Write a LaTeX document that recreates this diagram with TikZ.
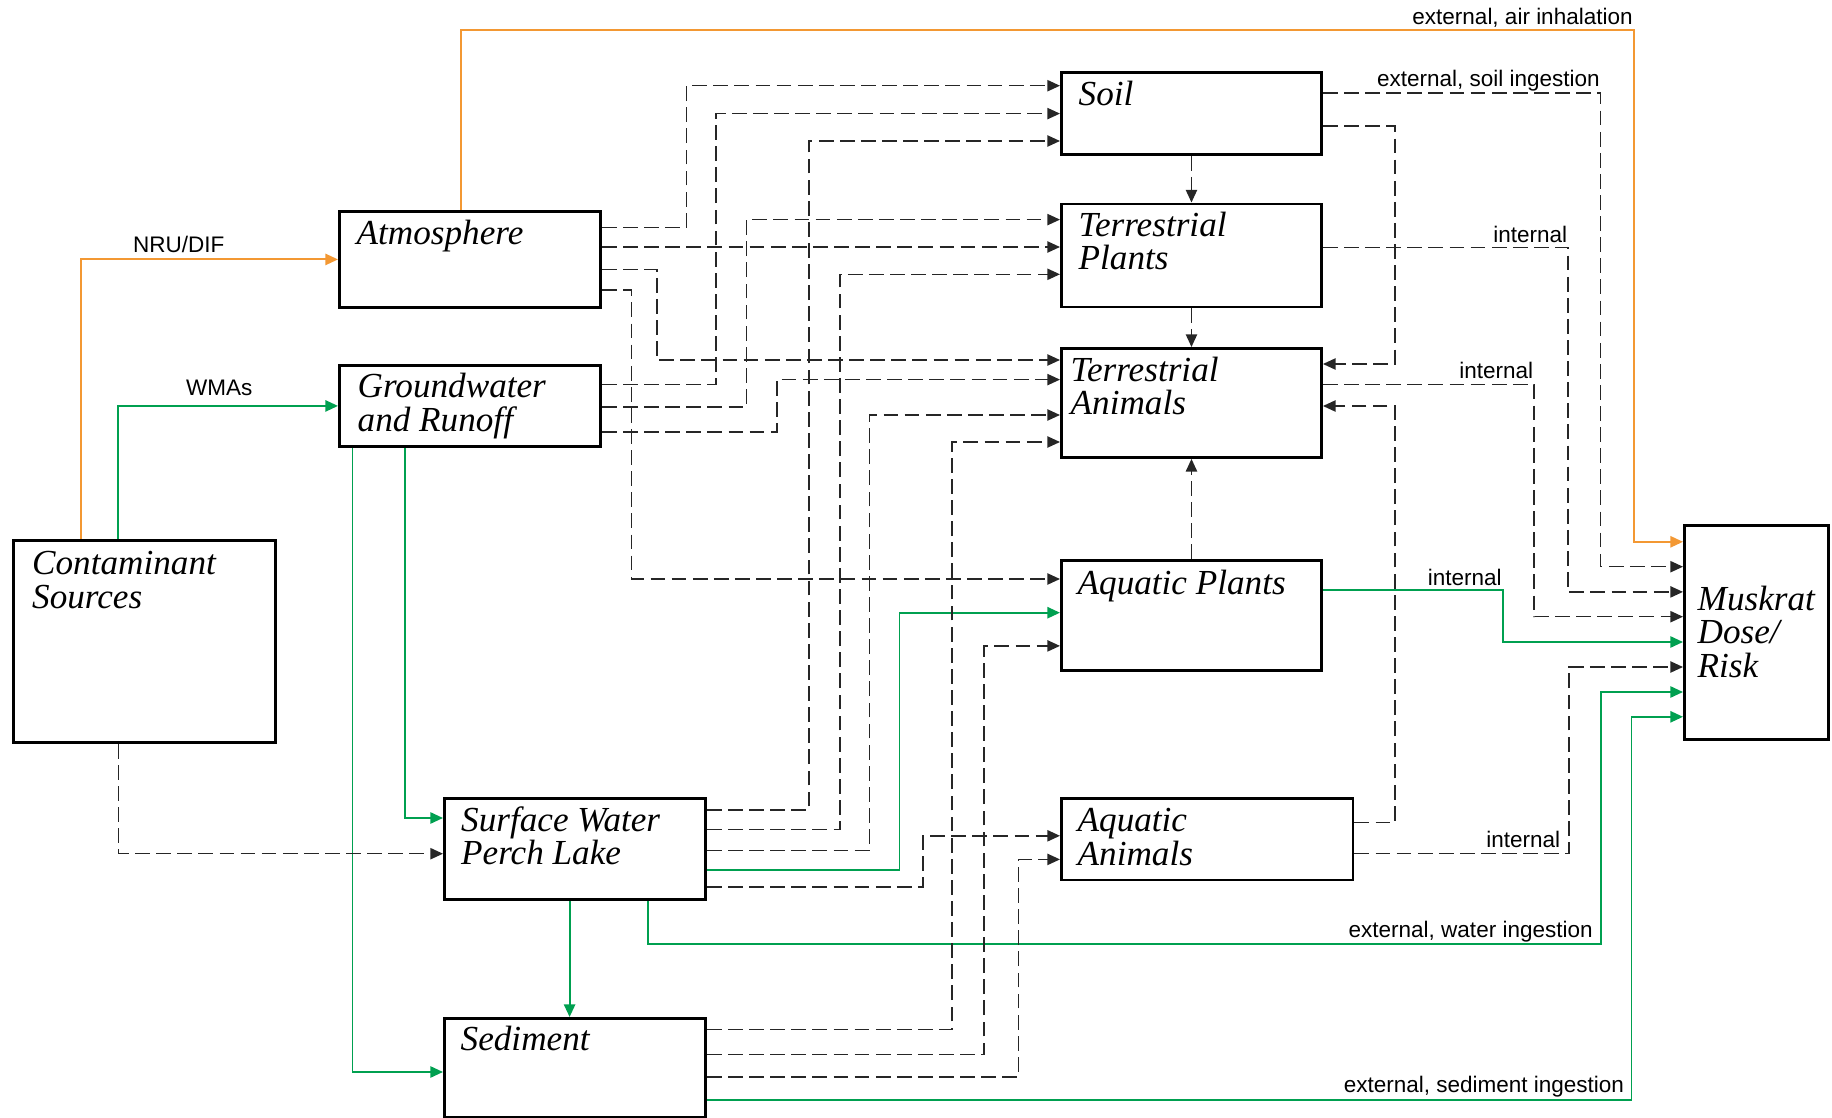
\documentclass[tikz,border=0pt]{standalone}
\usepackage{fontspec}
\setmainfont{Liberation Serif}
\setsansfont{Liberation Sans}
\usepackage{xcolor}
\usepackage{tikz}
\usetikzlibrary{positioning,arrows.meta}
\pgfdeclarelayer{nodelayer}
\pgfdeclarelayer{edgelayer}
\pgfsetlayers{main,edgelayer,nodelayer}
\definecolor{airOrange}{RGB}{243,152,51}
\definecolor{watGreen}{RGB}{0,160,80}
\tikzstyle{boxNode}=[rectangle, draw=black, line width=0.8pt, anchor=north west, inner sep=0pt]
\tikzstyle{boxText}=[anchor=base west, inner sep=0pt, align=left, font=\itshape\fontsize{10}{9.4}\selectfont]
\tikzstyle{chanLbl}=[anchor=base east, inner sep=0pt, text=black, font=\sffamily\fontsize{6.4}{7}\selectfont]
\tikzstyle{dashChan}=[-{Triangle[length=3.6pt,width=3.2pt]}, black!85, line width=0.45pt, dash pattern=on 4.2pt off 1.8pt]
\tikzstyle{airChan}=[-{Triangle[length=3.6pt,width=3.2pt]}, airOrange, line width=0.55pt]
\tikzstyle{watChan}=[-{Triangle[length=3.6pt,width=3.2pt]}, watGreen, line width=0.55pt]

\begin{document}
\begin{tikzpicture}[x=0.01cm, y=-0.01cm]
        \useasboundingbox (0,0) rectangle (1832,1118);
        \begin{pgfonlayer}{nodelayer}
            \node [style=boxNode, minimum width=2.62cm, minimum height=2.02cm] (Src) at (12,539) {};
            \node [style=boxNode, minimum width=2.61cm, minimum height=0.96cm] (Atm) at (338,210) {};
            \node [style=boxNode, minimum width=2.61cm, minimum height=0.81cm] (GW) at (338,364) {};
            \node [style=boxNode, minimum width=2.61cm, minimum height=1.01cm] (SW) at (443,797) {};
            \node [style=boxNode, minimum width=2.61cm, minimum height=0.99cm] (Sed) at (443,1017) {};
            \node [style=boxNode, minimum width=2.60cm, minimum height=0.82cm] (Soil) at (1060,71) {};
            \node [style=boxNode, minimum width=2.60cm, minimum height=1.03cm] (TP) at (1060,202.5) {};
            \node [style=boxNode, minimum width=2.60cm, minimum height=1.09cm] (TA) at (1060,347) {};
            \node [style=boxNode, minimum width=2.60cm, minimum height=1.10cm] (AP) at (1060,559) {};
            \node [style=boxNode, minimum width=2.915cm, minimum height=0.815cm] (AA) at (1060,797) {};
            \node [style=boxNode, minimum width=1.44cm, minimum height=2.14cm] (Mr) at (1683,524) {};

            % base of a two-line text is its last line
            \node [style=boxText] (SrcT) at ([shift={(19.5,69)}]Src.north west) {Contaminant\\Sources};
            \node [style=boxText] (AtmT) at ([shift={(18,35)}]Atm.north west) {Atmosphere};
            \node [style=boxText] (GWT) at ([shift={(19,67)}]GW.north west) {Groundwater\\and Runoff};
            \node [style=boxText] (SWT) at ([shift={(17.5,67.5)}]SW.north west) {Surface Water\\Perch Lake};
            \node [style=boxText] (SedT) at ([shift={(17,33)}]Sed.north west) {Sediment};
            \node [style=boxText] (SoilT) at ([shift={(18,34.5)}]Soil.north west) {Soil};
            \node [style=boxText] (TPT) at ([shift={(18,67)}]TP.north west) {Terrestrial\\Plants};
            \node [style=boxText] (TAT) at ([shift={(10,67.5)}]TA.north west) {Terrestrial\\Animals};
            \node [style=boxText] (APT) at ([shift={(17,35.5)}]AP.north west) {Aquatic Plants};
            \node [style=boxText] (AAT) at ([shift={(17,68)}]AA.north west) {Aquatic\\Animals};
            \node [style=boxText] (MrT) at ([shift={(14,153)}]Mr.north west) {Muskrat\\Dose/\\Risk};
        \end{pgfonlayer}
        \begin{pgfonlayer}{edgelayer}
            %air
            \draw [style={airChan}] (Src.north -| 81,0) |- (Atm.west) node[style=chanLbl, anchor=base, pos=0.69, shift={(0,-6.5)}] {NRU/DIF};
            \draw [style={airChan}] (Atm.north -| 461,0) |- (1633.6,29.6) node[style=chanLbl, shift={(0,-5)}] {external, air inhalation} |- (Mr.west |- 0,541.8);

            %water
            \draw [style={watChan}] (Src.north -| 118.3,0) |- (GW.west) node[style=chanLbl, anchor=base, pos=0.73, shift={(0,-10)}] {WMAs};
            \draw [style={watChan}] (GW.south -| 405,0) |- (SW.west |- 0,818);
            \draw [style={watChan}] (GW.south -| 352.5,0) |- (Sed.west |- 0,1072);
            \draw [style={watChan}] (SW.south -| 569.6,0) -- (Sed.north -| 569.6,0);
            \draw [style={watChan}] (SW.east |- 0,869.7) -| (899.5,612.7) -- (AP.west |- 0,612.7);
            \draw [style={watChan}] (SW.south -| 648,0) |- (1600.6,944) node[style=chanLbl, shift={(-7,-6.3)}] {external, water ingestion} |- (Mr.west |- 0,692);
            \draw [style={watChan}] (Sed.east |- 0,1099.7) -- (1631.5,1099.7) node[style=chanLbl, shift={(-6.5,-7.7)}] {external, sediment ingestion} |- (Mr.west |- 0,716.8);
            \draw [style={watChan}] (AP.east |- 0,590.3) -- (1502.6,590.3) node[style=chanLbl, shift={(0,-5.3)}] {internal} |- (Mr.west |- 0,642);

            %Contaminant Sources and Atmosphere
            \draw [style={dashChan}] (Src.south -| 118.3,0) |- (SW.west |- 0,853.7);
            \draw [style={dashChan}] (Atm.east |- 0,227.5) -| (686.5,85.7) -- (Soil.west |- 0,85.7);
            \draw [style={dashChan}] (Atm.east |- 0,247) -- (TP.west |- 0,247);
            \draw [style={dashChan}] (Atm.east |- 0,269.6) -| (657,360) -- (TA.west |- 0,360);
            \draw [style={dashChan}] (Atm.east |- 0,290) -| (631.7,579) -- (AP.west |- 0,579);

            %Groundwater
            \draw [style={dashChan}] (GW.east |- 0,384.6) -| (716,113.6) -- (Soil.west |- 0,113.6);
            \draw [style={dashChan}] (GW.east |- 0,406.8) -| (746.7,219.6) -- (TP.west |- 0,219.6);
            \draw [style={dashChan}] (GW.east |- 0,432) -| (776.8,379.6) -- (TA.west |- 0,379.6);

            %Surface Water
            \draw [style={dashChan}] (SW.east |- 0,809.9) -| (809,141) -- (Soil.west |- 0,141);
            \draw [style={dashChan}] (SW.east |- 0,829.7) -| (839.8,274.3) -- (TP.west |- 0,274.3);
            \draw [style={dashChan}] (SW.east |- 0,850.3) -| (869.4,415) -- (TA.west |- 0,415);
            \draw [style={dashChan}] (SW.east |- 0,886.9) -| (923,835.8) -- (AA.west |- 0,835.8);

            %Sediment
            \draw [style={dashChan}] (Sed.east |- 0,1029.5) -| (952,442) -- (TA.west |- 0,442);
            \draw [style={dashChan}] (Sed.east |- 0,1054.7) -| (984,645.9) -- (AP.west |- 0,645.9);
            \draw [style={dashChan}] (Sed.east |- 0,1076.8) -| (1018.4,859.4) -- (AA.west |- 0,859.4);

            %food chain
            \draw [style={dashChan}] (Soil.south) -- (TP.north);
            \draw [style={dashChan}] (TP.south) -- (TA.north);
            \draw [style={dashChan}] (AP.north) -- (TA.south);
            \draw [style={dashChan}] (Soil.east |- 0,126) -| (1394.8,364) -- (TA.east |- 0,364);
            \draw [style={dashChan}] (AA.east |- 0,822.5) -| (1394.8,406) -- (TA.east |- 0,406);

            %to Muskrat
            \draw [style={dashChan}] (Soil.east |- 0,92.9) -- (1600.6,92.9) node[style=chanLbl, shift={(0,-6)}] {external, soil ingestion} |- (Mr.west |- 0,566.7);
            \draw [style={dashChan}] (TP.east |- 0,247.5) -- (1568,247.5) node[style=chanLbl, shift={(0,-5.5)}] {internal} |- (Mr.west |- 0,591.9);
            \draw [style={dashChan}] (TA.east |- 0,384.6) -- (1534,384.6) node[style=chanLbl, shift={(0,-6.5)}] {internal} |- (Mr.west |- 0,616.7);
            \draw [style={dashChan}] (AA.east |- 0,853.5) -- (1569,853.5) node[style=chanLbl, shift={(-8,-6)}] {internal} |- (Mr.west |- 0,667);
        \end{pgfonlayer}
    \end{tikzpicture}
\end{document}
